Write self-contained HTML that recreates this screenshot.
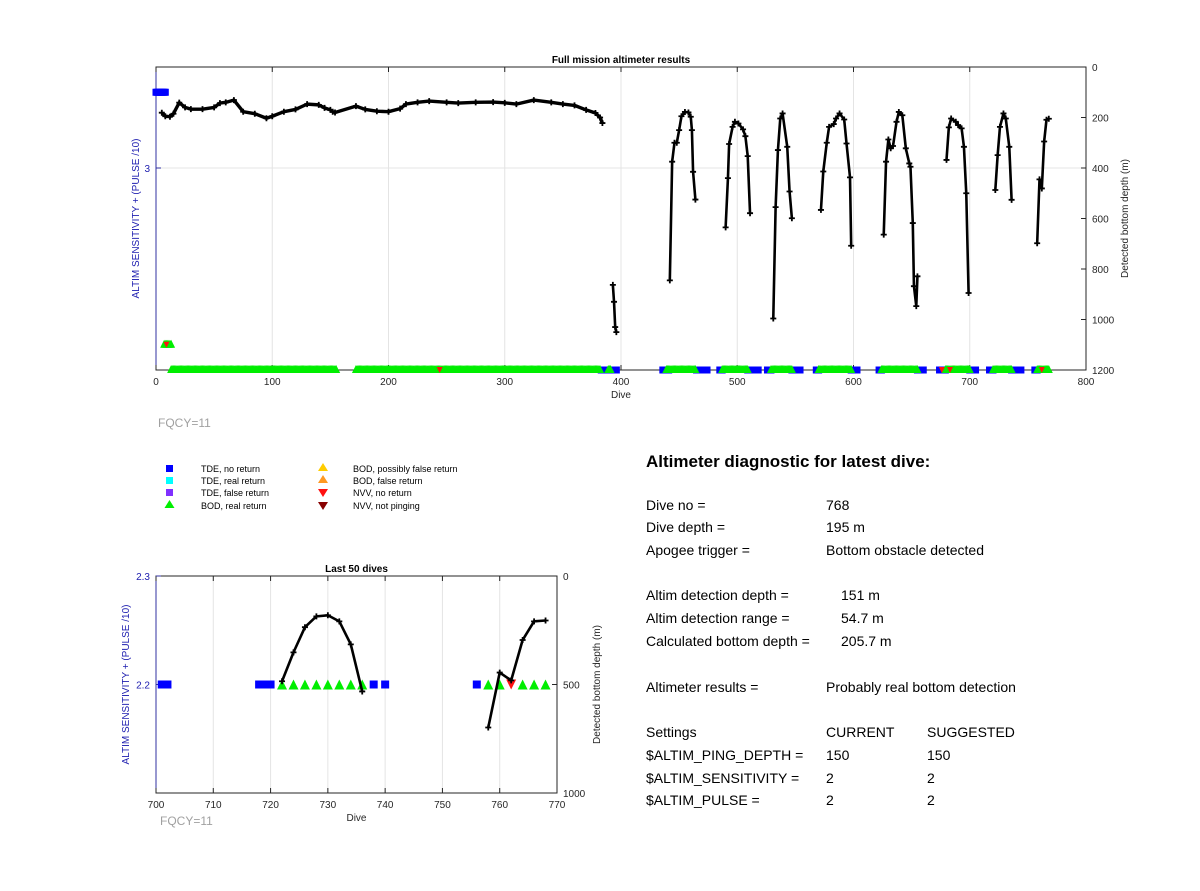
<!DOCTYPE html>
<html><head><meta charset="utf-8"><style>
body{margin:0;background:#fff;width:1200px;height:891px;overflow:hidden;font-family:"Liberation Sans",Arial,sans-serif}
svg{position:absolute;left:0;top:0}
</style></head><body>
<svg id="svg" width="1200" height="891" viewBox="0 0 1200 891" font-family="Liberation Sans, Arial, sans-serif">
<g id="top"></g>
<g id="bot"></g>
<g font-size="9" fill="#000">
 <rect x="166" y="465" width="7" height="7" fill="#0000ff"/>
 <text x="201" y="472">TDE, no return</text>
 <rect x="166" y="477" width="7" height="7" fill="#00ffff"/>
 <text x="201" y="484">TDE, real return</text>
 <rect x="166" y="489" width="7" height="7" fill="#8030ff"/>
 <text x="201" y="496">TDE, false return</text>
 <polygon points="169.5,500 164.5,508 174.5,508" fill="#00ee00"/>
 <text x="201" y="509">BOD, real return</text>
 <polygon points="323,463 318,471 328,471" fill="#ffcc00"/>
 <text x="353" y="472">BOD, possibly false return</text>
 <polygon points="323,475 318,483 328,483" fill="#ff9922"/>
 <text x="353" y="484">BOD, false return</text>
 <polygon points="318,489 328,489 323,497" fill="#ff1111"/>
 <text x="353" y="496">NVV, no return</text>
 <polygon points="318,502 328,502 323,510" fill="#880000"/>
 <text x="353" y="509">NVV, not pinging</text>
</g>
<text x="158" y="427" font-size="12" fill="#a0a0a0">FQCY=11</text>
<text x="160" y="825" font-size="12" fill="#a0a0a0">FQCY=11</text>
<g font-size="14" fill="#000">
 <text x="646" y="467" font-size="17" font-weight="bold">Altimeter diagnostic for latest dive:</text>
 <text x="646" y="510">Dive no =</text><text x="826" y="510">768</text>
 <text x="646" y="532">Dive depth =</text><text x="826" y="532">195 m</text>
 <text x="646" y="555">Apogee trigger =</text><text x="826" y="555">Bottom obstacle detected</text>
 <text x="646" y="600">Altim detection depth =</text><text x="841" y="600">151 m</text>
 <text x="646" y="623">Altim detection range =</text><text x="841" y="623">54.7 m</text>
 <text x="646" y="646">Calculated bottom depth =</text><text x="841" y="646">205.7 m</text>
 <text x="646" y="692">Altimeter results =</text><text x="826" y="692">Probably real bottom detection</text>
 <text x="646" y="737">Settings</text><text x="826" y="737">CURRENT</text><text x="927" y="737">SUGGESTED</text>
 <text x="646" y="760">$ALTIM_PING_DEPTH =</text><text x="826" y="760">150</text><text x="927" y="760">150</text>
 <text x="646" y="783">$ALTIM_SENSITIVITY =</text><text x="826" y="783">2</text><text x="927" y="783">2</text>
 <text x="646" y="805">$ALTIM_PULSE =</text><text x="826" y="805">2</text><text x="927" y="805">2</text>
</g>
</svg>
<script>
// ===== Full mission data =====
const depthSegments = [
 {dives:[5,8,12,15,20,25,30,40,50,55,60,67,75,85,95,100,110,120,130,140,145,150,152,154,172,180,190,200,210,215,225,235,250,260,275,290,300,310,325,340,350,360,370,378,382,384],
  depths:[181,195,197,185,141,160,167,167,160,143,140,131,177,185,203,195,177,168,147,150,162,170,177,180,155,168,175,177,165,147,140,135,140,143,140,139,142,147,131,140,147,152,170,182,200,222]},
 {dives:[393,394,395,396], depths:[863,930,1030,1050]},
 {dives:[442,444,446,448,450,452,455,458,460,461,462,464], depths:[845,375,300,300,250,195,178,180,197,250,415,525]},
 {dives:[490,492,493,496,498,501,505,507,509,511], depths:[635,440,305,237,217,224,247,274,353,579]},
 {dives:[531,533,535,537,539,543,545,547], depths:[996,555,329,204,184,316,493,599]},
 {dives:[572,574,577,579,583,585,588,592,594,597,598], depths:[566,414,300,237,226,204,184,208,303,437,708]},
 {dives:[626,628,630,632,634,637,639,642,645,648,649,651,652,654,655], depths:[664,375,287,322,313,217,178,191,322,382,395,618,868,947,829]},
 {dives:[680,682,684,688,690,693,695,697,699], depths:[368,239,204,217,230,243,316,500,895]},
 {dives:[722,724,726,729,731,734,736], depths:[487,349,237,184,204,316,526]},
 {dives:[758,760,762,764,766,768], depths:[698,445,481,295,209,205]}
];
const tdeRanges = [[0,8,3.3],[383,387,2.2],[392,396,2.2],[436,441,2.2],[465,474,2.2],[485,487,2.2],[509,518,2.2],[526,529,2.2],[547,554,2.2],[568,570,2.2],[598,603,2.2],[622,624,2.2],[655,660,2.2],[674,679,2.2],[700,705,2.2],[717,720,2.2],[736,744,2.2],[756,758,2.2]];
const bodRanges = [[7,13,2.3],[13,155,2.2],[172,382,2.2],[389,391,2.2],[439,464,2.2],[487,509,2.2],[529,547,2.2],[570,598,2.2],[624,655,2.2],[679,700,2.2],[720,736,2.2],[758,768,2.2]];
const nvvDives = [9,244,676,683,762];
const nvvValues = [2.3,2.2,2.2,2.2,2.2];
const topXTicks = [0,100,200,300,400,500,600,700,800];
const topDepthTicks = [0,200,400,600,800,1000,1200];
const topLeftTicks = [3];
// ===== Last 50 dives data =====
const lastDives = [722,724,726,728,730,732,734,736];
const lastDepths = [485,352,236,186,181,209,315,532];
const lastDives2 = [758,760,762,764,766,768];
const lastDepths2 = [698,445,481,295,209,205];
const lastTde = [701,702,718,719,720,738,740,756];
const lastBod = [722,724,726,728,730,732,734,736,758,760,764,766,768];
const lastNvv = [762];
const botXTicks = [700,710,720,730,740,750,760,770];
const botDepthTicks = [0,500,1000];
const botLeftTicks = [2.2,2.3];

const NS='http://www.w3.org/2000/svg';
function mk(parent,tag,attrs){const e=document.createElementNS(NS,tag);for(const k in attrs)e.setAttribute(k,attrs[k]);parent.appendChild(e);return e;}

function drawChart(g,o){
 const X=d=>o.x0+(d-o.d0)/(o.d1-o.d0)*(o.x1-o.x0);
 const Y=v=>o.y0+v/o.dmax*(o.y1-o.y0);
 const L=v=>o.y1-(v-o.l0)/(o.l1-o.l0)*(o.y1-o.y0);
 o.xt.forEach(t=>{const l=mk(g,'line',{x1:X(t),x2:X(t),y1:o.y0,y2:o.y1,stroke:'#e4e4e4','stroke-width':1});
  
  });
 o.gridDepth.forEach(t=>{const l=mk(g,'line',{x1:o.x0,x2:o.x1,y1:Y(t),y2:Y(t),stroke:'#e4e4e4','stroke-width':1});
  
  });
 const fr=mk(g,'rect',{x:o.x0,y:o.y0,width:o.x1-o.x0,height:o.y1-o.y0,fill:'none',stroke:'#262626','stroke-width':1});
 
 
 const lax=mk(g,'line',{x1:o.x0,x2:o.x0,y1:o.y0,y2:o.y1,stroke:'#3030a0','stroke-width':1});
 
 
 o.xt.forEach(t=>{mk(g,'line',{x1:X(t),x2:X(t),y1:o.y1,y2:o.y1-5,stroke:'#262626'});mk(g,'line',{x1:X(t),x2:X(t),y1:o.y0,y2:o.y0+5,stroke:'#262626'});
  const tx=mk(g,'text',{x:X(t),y:o.y1+15,'text-anchor':'middle','font-size':10,fill:'#262626'});tx.textContent=t;
  
  });
 o.dt.forEach(t=>{mk(g,'line',{x1:o.x1,x2:o.x1-5,y1:Y(t),y2:Y(t),stroke:'#262626'});
  const tx=mk(g,'text',{x:o.x1+6,y:Y(t)+4,'font-size':10,fill:'#262626'});tx.textContent=t;
  
  });
 o.lt.forEach(t=>{mk(g,'line',{x1:o.x0,x2:o.x0+5,y1:L(t),y2:L(t),stroke:'#3030a0'});
  const tx=mk(g,'text',{x:o.x0-6,y:L(t)+4,'text-anchor':'end','font-size':10,fill:'#2020b0'});tx.textContent=t;
  
  });
 let t=mk(g,'text',{x:(o.x0+o.x1)/2,y:o.y0-4,'text-anchor':'middle','font-size':10,'font-weight':'bold'});t.textContent=o.title;
 
 
 t=mk(g,'text',{x:(o.x0+o.x1)/2,y:o.y1+28,'text-anchor':'middle','font-size':10,fill:'#262626'});t.textContent='Dive';
 
 
 t=mk(g,'text',{x:0,y:0,'text-anchor':'middle','font-size':10,fill:'#2020b0',transform:`translate(${o.x0-17+o.lOff},${(o.y0+o.y1)/2}) rotate(-90)`});t.textContent='ALTIM SENSITIVITY + (PULSE /10)';
 
 
 t=mk(g,'text',{x:0,y:0,'text-anchor':'middle','font-size':10,fill:'#262626',transform:`translate(${o.x1+o.rOff},${(o.y0+o.y1)/2}) rotate(-90)`});t.textContent='Detected bottom depth (m)';
 
 
 return {X,Y,L};
}
function sq(g,x,y,s){const r=mk(g,'rect',{x:x-s/2,y:y-s/2,width:s,height:s,fill:'#0000ff'});
 
 }
function tri(g,x,y,s){const p=mk(g,'polygon',{points:`${x},${y-s/2} ${x-s/2},${y+s/2} ${x+s/2},${y+s/2}`,fill:'#00ee00'});
 
 }
function dtri(g,x,y,s){const p=mk(g,'polygon',{points:`${x-s/2},${y-s/2} ${x+s/2},${y-s/2} ${x},${y+s/2}`,fill:'#ff1111'});
 
 }
function line(g,xs,ys,w,ms){
 const pts=xs.map((d,i)=>xs[i]+','+ys[i]).join(' ');
 const pl=mk(g,'polyline',{points:pts,fill:'none',stroke:'#000','stroke-width':w,'stroke-linejoin':'round'});
 
 
 xs.forEach((x,i)=>{const p=mk(g,'path',{d:`M${x-ms},${ys[i]}h${2*ms}M${x},${ys[i]-ms}v${2*ms}`,stroke:'#000','stroke-width':1.8});
  
  });
}
const gt=document.getElementById('top');
const A=drawChart(gt,{x0:156,x1:1086,y0:67,y1:370,d0:0,d1:800,dmax:1200,l0:2.2,l1:3.4,xt:topXTicks,dt:topDepthTicks,lt:topLeftTicks,gridDepth:[400],title:'Full mission altimeter results',lOff:0,rOff:42});
tdeRanges.forEach(r=>{for(let d=r[0];d<=r[1];d++)sq(gt,A.X(d),A.L(r[2]),7);});
bodRanges.forEach(r=>{for(let d=r[0];d<=r[1];d++)tri(gt,A.X(d),A.L(r[2])-1,8);});
nvvDives.forEach((d,i)=>dtri(gt,A.X(d),A.L(nvvValues[i]),6));
depthSegments.forEach((s,i)=>line(gt,s.dives.map(A.X),s.depths.map(A.Y),i===0?3.4:2.6,3));
const gb=document.getElementById('bot');
const B=drawChart(gb,{x0:156,x1:557,y0:576,y1:793,d0:700,d1:770,dmax:1000,l0:2.1,l1:2.3,xt:botXTicks,dt:botDepthTicks,lt:botLeftTicks,gridDepth:[],title:'Last 50 dives',lOff:-10,rOff:43});
lastTde.forEach(d=>sq(gb,B.X(d),B.L(2.2),8));
lastBod.forEach(d=>tri(gb,B.X(d),B.L(2.2),10));
lastNvv.forEach(d=>dtri(gb,B.X(d),B.L(2.2),10));
line(gb,lastDives.map(B.X),lastDepths.map(B.Y),2.6,3);
line(gb,lastDives2.map(B.X),lastDepths2.map(B.Y),2.6,3);
</script>
</body></html>
